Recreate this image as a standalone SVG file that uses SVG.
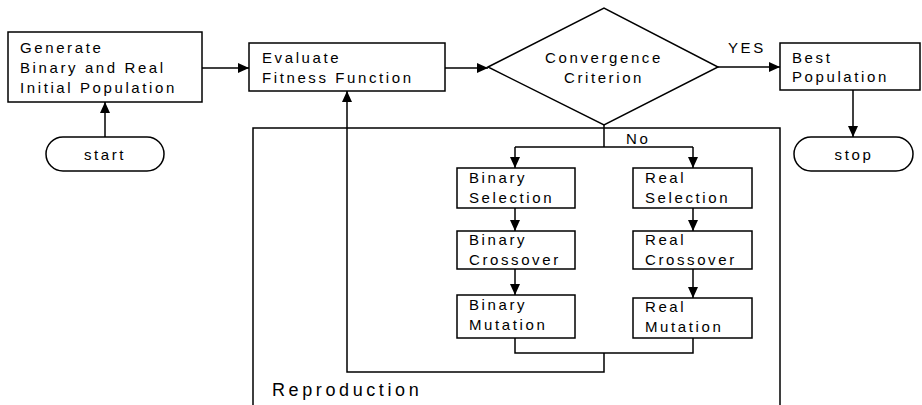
<svg xmlns="http://www.w3.org/2000/svg" width="922" height="405" viewBox="0 0 922 405">
<style>
.box{fill:#fff;stroke:#000;stroke-width:1.5}
.ln{fill:none;stroke:#000;stroke-width:1.5}
.t{font-family:"Liberation Sans",Arial,sans-serif;font-size:15px;letter-spacing:2.6px;fill:#000}
.big{font-size:18px;letter-spacing:3.6px}
</style>
<defs>
<marker id="ah" markerUnits="userSpaceOnUse" markerWidth="12" markerHeight="10" refX="11" refY="5" orient="auto">
<path d="M0,0 L11,5 L0,10 Z" fill="#000"/>
</marker>
</defs>
<g id="reproduction">
<path class="ln" d="M253,410 L253,128 L780,128 L780,410"/>
<text class="t big" x="272" y="396">Reproduction</text>
</g>
<g id="generate">
<rect class="box" x="8" y="32" width="194" height="70"/>
<text class="t" x="20" y="53">Generate</text>
<text class="t" x="20" y="73">Binary and Real</text>
<text class="t" x="20" y="93">Initial Population</text>
</g>
<g id="start">
<rect class="box" x="46" y="137" width="118" height="34" rx="17"/>
<text class="t" x="105" y="160" text-anchor="middle">start</text>
</g>
<g id="evaluate">
<rect class="box" x="249" y="43" width="196" height="48"/>
<text class="t" x="262" y="63">Evaluate</text>
<text class="t" x="262" y="83">Fitness Function</text>
</g>
<g id="convergence">
<polygon class="box" points="488,67 604,8 718,67 604,125"/>
<text class="t" x="604" y="63" text-anchor="middle">Convergence</text>
<text class="t" x="604" y="83" text-anchor="middle">Criterion</text>
</g>
<g id="best">
<rect class="box" x="780" y="43" width="140" height="47"/>
<text class="t" x="792" y="63">Best</text>
<text class="t" x="792" y="82">Population</text>
</g>
<g id="stop">
<rect class="box" x="794" y="137" width="119" height="34" rx="17"/>
<text class="t" x="854" y="160" text-anchor="middle">stop</text>
</g>
<g id="binsel">
<rect class="box" x="457" y="168" width="118" height="40"/>
<text class="t" x="469" y="183">Binary</text>
<text class="t" x="469" y="203">Selection</text>
</g>
<g id="bincross">
<rect class="box" x="457" y="231" width="118" height="38"/>
<text class="t" x="469" y="245">Binary</text>
<text class="t" x="469" y="265">Crossover</text>
</g>
<g id="binmut">
<rect class="box" x="457" y="295" width="118" height="43"/>
<text class="t" x="469" y="310">Binary</text>
<text class="t" x="469" y="330">Mutation</text>
</g>
<g id="realsel">
<rect class="box" x="633" y="168" width="119" height="40"/>
<text class="t" x="645" y="183">Real</text>
<text class="t" x="645" y="203">Selection</text>
</g>
<g id="realcross">
<rect class="box" x="633" y="231" width="119" height="38"/>
<text class="t" x="645" y="245">Real</text>
<text class="t" x="645" y="265">Crossover</text>
</g>
<g id="realmut">
<rect class="box" x="633" y="298" width="119" height="40"/>
<text class="t" x="645" y="312">Real</text>
<text class="t" x="645" y="332">Mutation</text>
</g>
<g id="connectors">
<line class="ln" x1="202" y1="68" x2="249" y2="68" marker-end="url(#ah)"/>
<line class="ln" x1="105" y1="137" x2="105" y2="102" marker-end="url(#ah)"/>
<line class="ln" x1="445" y1="68" x2="488" y2="68" marker-end="url(#ah)"/>
<line class="ln" x1="718" y1="67" x2="780" y2="67" marker-end="url(#ah)"/>
<text class="t" x="728" y="53">YES</text>
<line class="ln" x1="853" y1="90" x2="853" y2="137" marker-end="url(#ah)"/>
<path class="ln" d="M604,125 L604,147"/>
<path class="ln" d="M515,147 L693,147"/>
<text class="t" x="626" y="144">No</text>
<line class="ln" x1="515" y1="147" x2="515" y2="168" marker-end="url(#ah)"/>
<line class="ln" x1="693" y1="147" x2="693" y2="168" marker-end="url(#ah)"/>
<line class="ln" x1="515" y1="208" x2="515" y2="231" marker-end="url(#ah)"/>
<line class="ln" x1="515" y1="269" x2="515" y2="295" marker-end="url(#ah)"/>
<line class="ln" x1="693" y1="208" x2="693" y2="231" marker-end="url(#ah)"/>
<line class="ln" x1="693" y1="269" x2="693" y2="298" marker-end="url(#ah)"/>
<path class="ln" d="M515,338 L515,353 L693,353 L693,338" stroke-width="2"/>
<path class="ln" d="M604,353 L604,372 L347,372 L347,91" marker-end="url(#ah)"/>
</g>
</svg>
